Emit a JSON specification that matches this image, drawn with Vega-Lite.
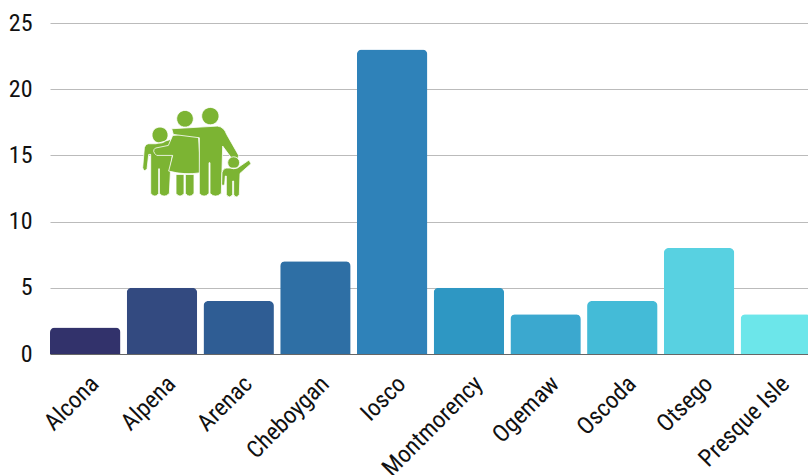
{"$schema":"https://vega.github.io/schema/vega-lite/v6.json","width":758,"height":331,"autosize":"none","padding":{"left":50,"top":23,"right":0,"bottom":121},"background":"white","config":{"view":{"stroke":null}},
"layer":[
{"data":{"values":[{"county":"Alcona","cases":2},{"county":"Alpena","cases":5},{"county":"Arenac","cases":4},{"county":"Cheboygan","cases":7},{"county":"Iosco","cases":23},{"county":"Montmorency","cases":5},{"county":"Ogemaw","cases":3},{"county":"Oscoda","cases":4},{"county":"Otsego","cases":8},{"county":"Presque Isle","cases":3}]},
"mark":{"type":"bar","cornerRadiusTopLeft":5,"cornerRadiusTopRight":5},
"encoding":{"x":{"field":"county","type":"nominal","sort":null,"title":null,"scale":{"range":[0,761],"paddingInner":0.082,"paddingOuter":0},"axis":{"labelAngle":-45,"labelAlign":"right","labelBaseline":"middle","labelFont":"Roboto Condensed, Liberation Sans Narrow, Roboto","labelFontSize":24,"labelColor":"#111111","labelPadding":26,"labelOffset":10,"ticks":false,"domainColor":"#666666","labelOverlap":false,"labelBound":false}},
"y":{"field":"cases","type":"quantitative","title":null,"scale":{"domain":[0,25],"nice":false},"axis":{"values":[0,5,10,15,20,25],"labelFont":"Roboto Condensed, Liberation Sans Narrow, Roboto","labelFontSize":24,"labelColor":"#111111","labelPadding":18,"ticks":false,"domain":false,"gridColor":"#bbbbbb","grid":true}},
"color":{"field":"county","type":"nominal","sort":null,"legend":null,"scale":{"domain":["Alcona","Alpena","Arenac","Cheboygan","Iosco","Montmorency","Ogemaw","Oscoda","Otsego","Presque Isle"],"range":["#32326b","#334a80","#2f5d94","#2e6fa5","#2f82b9","#2e97c3","#3ba8cf","#44bbd7","#58d1e1","#6ce6ea"]}}}},
{"data":{"values":[{"part":"a","ix":1.935,"iy":15.2},{"part":"b","ix":1.935,"iy":15.2},{"part":"c","ix":1.935,"iy":15.2},{"part":"d","ix":1.935,"iy":15.2}]},
"mark":{"type":"point","filled":true,"opacity":1,"size":0.444,"stroke":"white","strokeWidth":0.8,"fill":"#7cb433"},
"encoding":{"x":{"field":"ix","type":"quantitative","scale":{"domain":[0,10],"nice":false},"axis":null},"y":{"field":"iy","type":"quantitative","title":null},
"order":{"field":"part"},
"shape":{"field":"part","type":"nominal","legend":null,"scale":{"domain":["a","b","c","d"],"range":[
"M-134,-53a24,24 0 1,0 48,0a24,24 0 1,0 -48,0Z M-122,-27 L-78,-40 L-70,-10 L-78,40 L-82,122 Q-98,138 -112,122 L-112,48 L-114,48 L-114,122 Q-125,138 -138,122 L-138,5 L-144,5 L-149,48 Q-158,60 -162,45 L-157,-15 Q-152,-29 -140,-27 Z",
"M-60,-102a25,25 0 1,0 50,0a25,25 0 1,0 -50,0Z M-72,-52 L5,-60 L12,60 Q-35,68 -84,55 L-72,8 L-120,8 Q-136,-5 -124,-14 L-85,-22 Z M-62,65 L-38,65 L-38,122 Q-50,138 -62,122 Z M-34,65 L-8,65 L-8,122 Q-21,138 -34,122 Z",
"M15,-110a26,26 0 1,0 52,0a26,26 0 1,0 -52,0Z M-75,-72 L62,-80 Q82,-78 90,-55 L126,8 Q124,26 106,18 L78,-20 L74,122 Q56,138 40,122 L40,30 L37,30 L37,122 Q22,138 8,122 L8,-45 L-70,-55 Z",
"M93,30a18,18 0 1,0 36,0a18,18 0 1,0 -36,0Z M88,46 L122,46 L157,22 L163,33 L130,62 L128,125 Q118,140 111,125 L111,85 L108,85 L108,125 Q98,140 89,125 L89,70 L86,70 L84,95 Q76,102 75,92 L76,60 Q78,48 88,46Z"
]}}}}
],"resolve":{"scale":{"x":"independent","color":"independent","shape":"independent"}}}
